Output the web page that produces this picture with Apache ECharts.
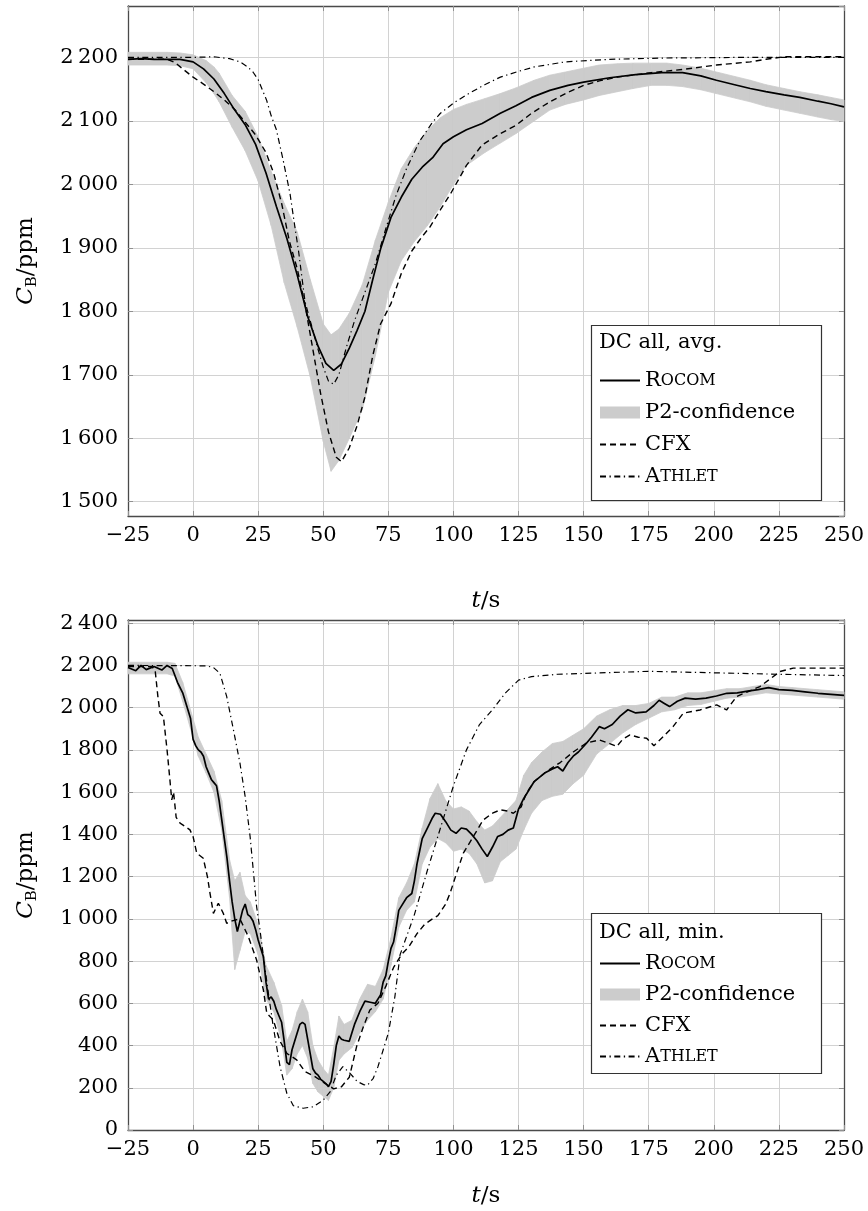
<!DOCTYPE html>
<html>
<head>
<meta charset="utf-8">
<script src="https://cdn.jsdelivr.net/npm/echarts@6.0.0/dist/echarts.min.js"></script>
<style>
  html, body { margin: 0; padding: 0; background: #fff; }
  #chart { width: 868px; height: 1211px; }
</style>
</head>
<body>
<div id="chart"></div>
<script>
// ---- top panel: DC all, avg. ----
var rocomAvg = [[-25,2197],[-20,2198],[-15,2197],[-10,2197],[-5,2197],[0,2193],[4,2182],[8,2166],[12,2143],[16,2117],[20,2094],[24,2063],[28,2018],[32,1965],[36,1915],[40,1857],[44,1792],[48,1745],[51,1718],[54,1707],[57,1717],[60,1742],[63,1770],[66,1800],[69,1850],[72,1898],[76,1948],[80,1980],[84,2008],[88,2027],[92,2042],[96,2064],[100,2075],[105,2086],[111,2096],[118,2112],[124,2124],[130,2137],[137,2148],[144,2156],[150,2161],[160,2168],[170,2173],[180,2176],[188,2176],[195,2171],[201,2164],[208,2157],[214,2151],[220,2146],[227,2141],[233,2137],[240,2131],[245,2127],[250,2122]];
var cfxAvg = [[-25,2197],[-10,2197],[-7,2192],[-4,2182],[0,2169],[4,2158],[8,2146],[12,2133],[16,2118],[20,2098],[24,2078],[28,2050],[31,2017],[34,1970],[37,1910],[40,1867],[43,1810],[46,1740],[49,1670],[52,1610],[55,1570],[57,1563],[60,1585],[63,1620],[66,1665],[69,1730],[72,1780],[76,1812],[80,1860],[84,1895],[88,1918],[91,1933],[95,1960],[99,1986],[105,2030],[111,2062],[118,2080],[124,2093],[130,2112],[137,2130],[144,2145],[150,2156],[156,2163],[163,2169],[176,2176],[188,2181],[201,2188],[214,2193],[220,2197],[227,2201],[240,2201],[250,2201]];
var athletAvg = [[-25,2200],[0,2200],[8,2201],[14,2198],[18,2193],[21,2185],[23,2177],[25,2165],[27,2145],[28.2,2133],[30,2108],[32,2086],[34.6,2038],[37.2,1986],[39.1,1933],[40.5,1895],[43,1815],[45,1785],[48,1740],[50,1712],[52,1690],[54,1685],[56,1700],[59,1745],[62,1785],[66,1830],[70,1875],[74,1930],[78,1983],[82,2025],[87,2068],[92,2098],[95,2112],[100,2128],[105,2141],[112,2157],[118,2169],[125,2178],[131,2185],[143,2193],[160,2197],[180,2199],[210,2200],[250,2200]];
var bandAvgT  = [-25,-10,-5,0,5,8,10,15,20,25,30,35,40,45,50,53,56,60,65,70,75,80,85,90,95,100,105,112,118,124,131,137,143,150,156,163,169,176,182,188,195,201,208,214,220,227,233,240,245,250];
var bandAvgLo = [2188,2188,2187,2182,2160,2143,2130,2090,2053,2005,1935,1845,1775,1697,1595,1548,1565,1600,1645,1730,1830,1880,1910,1935,1965,2000,2030,2050,2065,2080,2100,2117,2126,2133,2140,2146,2151,2156,2156,2154,2149,2143,2136,2130,2123,2117,2112,2106,2102,2099];
var bandAvgHi = [2208,2208,2207,2204,2195,2185,2175,2140,2115,2075,2020,1970,1925,1850,1780,1763,1772,1797,1842,1912,1972,2025,2058,2085,2105,2118,2126,2135,2143,2152,2164,2172,2177,2183,2188,2190,2191,2191,2191,2188,2183,2177,2170,2164,2157,2151,2146,2141,2137,2133];

// ---- bottom panel: DC all, min. ----
var rocomMin = [[-25,2190],[-22,2175],[-20,2200],[-18,2180],[-15,2195],[-12,2178],[-10,2200],[-8,2185],[-6,2120],[-4,2070],[-2,1990],[-1,1950],[0,1850],[1,1820],[2,1800],[3,1790],[4,1770],[5,1720],[6,1690],[7,1660],[8,1645],[9,1630],[10,1560],[11,1470],[12,1380],[13,1290],[14,1180],[15,1080],[16,1000],[17,940],[18,990],[19,1040],[20,1070],[21,1020],[22,1010],[23,990],[24,950],[25,900],[26,860],[27,820],[28,700],[29,620],[30,630],[31,610],[32,570],[33,540],[34,510],[35,420],[36,320],[37,310],[38,380],[39,420],[40,460],[41,500],[42,510],[43,500],[44,430],[45,360],[46,290],[47,270],[48,260],[49,240],[50,230],[51,220],[52,205],[53,230],[54,310],[55,400],[56,445],[57,430],[58,425],[60,420],[61,460],[62,500],[64,560],[66,610],[68,605],[70,600],[72,640],[73,700],[74,730],[75,800],[76,860],[77,890],[78,960],[79,1040],[80,1060],[82,1100],[84,1120],[85,1180],[86,1260],[87,1320],[88,1380],[90,1430],[92,1480],[93,1500],[95,1495],[97,1460],[99,1420],[101,1405],[103,1430],[105,1425],[107,1400],[109,1370],[111,1330],[113,1295],[115,1340],[117,1390],[119,1400],[121,1420],[123,1430],[125,1520],[127,1570],[129,1610],[131,1650],[133,1670],[135,1690],[138,1710],[140,1720],[142,1700],[144,1740],[146,1770],[148,1790],[151,1830],[153,1860],[156,1910],[158,1900],[161,1920],[164,1960],[167,1990],[170,1975],[174,1980],[177,2010],[179,2035],[181,2020],[183,2005],[186,2030],[189,2045],[193,2040],[197,2045],[201,2055],[205,2068],[209,2070],[213,2078],[217,2085],[221,2095],[225,2085],[230,2082],[235,2075],[240,2068],[245,2063],[250,2058]];
var cfxMin = [[-25,2195],[-16,2195],[-14.6,2180],[-13.5,2050],[-12.7,1974],[-11.4,1958],[-10,1800],[-8.9,1658],[-8.2,1563],[-7.5,1600],[-6.5,1480],[-5,1453],[-3,1437],[-1.2,1421],[0,1389],[1.4,1311],[3.9,1287],[5.5,1200],[6.5,1121],[7.8,1026],[9.7,1074],[11.6,1026],[12.9,979],[15,990],[18,1000],[21.2,916],[24.4,805],[27,663],[28.3,553],[30.8,521],[33.4,420],[36,363],[39.8,332],[43,276],[46.8,253],[50.6,221],[54,195],[57,205],[60,250],[62.8,395],[65.4,489],[67.9,568],[71,600],[74,680],[77,770],[80,830],[83,870],[86,930],[89,975],[92,1000],[94,1015],[97,1070],[98.7,1121],[101.2,1216],[103.8,1311],[107.6,1389],[111.4,1468],[115,1500],[118,1516],[121,1510],[123,1500],[126,1530],[128,1595],[131,1650],[136,1700],[141,1740],[146,1790],[151,1832],[156,1847],[160,1830],[162.7,1816],[165,1850],[167.8,1871],[171,1860],[174.2,1855],[177,1820],[180.6,1863],[184.4,1911],[188.3,1974],[194.7,1989],[201.1,2013],[204.9,1989],[208.8,2053],[213,2075],[217.7,2100],[221,2130],[225.4,2171],[230.5,2187],[240,2187],[250,2187]];
var athletMin = [[-25,2200],[5,2198],[7.8,2190],[10.3,2163],[12.9,2053],[15.5,1895],[18,1737],[20,1579],[21.9,1389],[23.1,1232],[24.4,1058],[25.7,947],[27,821],[29,640],[30.8,489],[33.4,300],[36,174],[38.5,115],[42.3,103],[46.2,110],[50,142],[52.6,180],[55,260],[57.5,300],[60.3,268],[63,230],[65.5,215],[67,212],[69.2,245],[71,300],[73,379],[75,460],[77.5,631],[79.5,830],[85,1020],[90,1230],[95,1430],[100,1630],[105,1800],[110,1920],[115,1990],[120,2070],[125,2130],[130,2147],[140,2158],[150,2162],[175,2172],[200,2165],[225,2158],[250,2152]];
var bandMinT  = [-25,-10,-7,-4,-1,2,5,8,11,14,16,18,20,22,25,28,31,34,36,38,40,42,44,46,48,50,52,54,56,58,61,64,67,70,73,76,79,82,85,88,91,94,97,100,103,106,109,112,115,118,121,124,127,130,134,138,142,146,150,155,160,165,170,175,180,185,190,195,200,205,210,215,220,225,230,240,250];
var bandMinLo = [2160,2160,2150,2030,1900,1770,1690,1600,1420,1100,760,850,940,930,830,620,560,420,260,290,360,400,340,220,180,160,140,200,330,360,390,460,520,560,620,780,960,1040,1080,1260,1340,1380,1360,1320,1330,1310,1260,1170,1180,1270,1300,1330,1420,1500,1560,1580,1590,1640,1680,1780,1830,1880,1920,1950,1980,1990,2010,2015,2030,2045,2050,2060,2070,2065,2060,2050,2040];
var bandMinHi = [2215,2215,2210,2120,1990,1860,1780,1700,1560,1280,1180,1220,1110,1080,970,780,700,590,420,470,560,620,560,400,330,290,260,390,540,500,520,620,690,680,760,910,1100,1170,1260,1430,1570,1640,1560,1520,1530,1510,1460,1420,1440,1480,1520,1560,1680,1740,1790,1830,1840,1870,1900,1960,1990,2010,2010,2020,2050,2050,2070,2070,2080,2090,2090,2100,2110,2100,2095,2085,2075];

var xTicks = { min: -25, max: 250, interval: 25 };
var yAvgRange = { min: 1477.5, max: 2281, step: 100 };
var yMinRange = { min: 0, max: 2415, step: 200 };

var FONT = 'DejaVu Serif';
var BAND = '#cccccc';
var GRIDC = '#d2d2d2';
var AXISC = '#4a4a4a';

function xLabel(v) { return v < 0 ? '\u2212' + (-v) : String(v); }
function yLabel(v) {
    var s = String(Math.round(v));
    if (s.length > 3) return s.slice(0, s.length - 3) + '\u2009' + s.slice(-3);
    return s;
}

var nameRich = {
    i: { fontFamily: FONT, fontSize: 23, fontStyle: 'italic', color: '#000' },
    s: { fontFamily: FONT, fontSize: 15, color: '#000', padding: [12, 0, 0, 0] },
    n: { fontFamily: FONT, fontSize: 23, color: '#000' }
};

function xAxes(gi, nameGap) {
    var base = {
        type: 'value', gridIndex: gi, min: xTicks.min, max: xTicks.max, interval: xTicks.interval,
        axisLine: { show: true, onZero: false, lineStyle: { color: AXISC, width: 1.3 } },
        axisTick: { show: true, inside: true, length: 5, lineStyle: { color: '#909090' } }
    };
    var bottom = echarts.util.merge({
        position: 'bottom',
        name: '{i|t}{n|/s}', nameLocation: 'middle', nameGap: nameGap,
        nameTextStyle: { rich: nameRich },
        splitLine: { show: true, lineStyle: { color: GRIDC, width: 1 } },
        axisLabel: { margin: 9, fontFamily: FONT, fontSize: 21, color: '#000', formatter: xLabel }
    }, base, true);
    var top = echarts.util.merge({
        position: 'top', splitLine: { show: false }, axisLabel: { show: false }
    }, base, true);
    return [bottom, top];
}

function yAxes(gi, r) {
    var base = {
        type: 'value', gridIndex: gi, min: r.min, max: r.max,
        splitNumber: Math.round((r.max - r.min) / r.step), minInterval: r.step, maxInterval: r.step,
        axisLine: { show: true, onZero: false, lineStyle: { color: AXISC, width: 1.3 } },
        axisTick: { show: true, inside: true, length: 5, lineStyle: { color: '#909090' } }
    };
    var left = echarts.util.merge({
        position: 'left',
        name: '{i|C}{s|B}{n|/ppm}', nameLocation: 'middle', nameGap: 88, nameRotate: 90,
        nameTextStyle: { rich: nameRich },
        splitLine: { show: true, lineStyle: { color: GRIDC, width: 1 } },
        axisLabel: { margin: 10, fontFamily: FONT, fontSize: 21, color: '#000', formatter: yLabel,
                     showMinLabel: r.min === 0, showMaxLabel: false }
    }, base, true);
    var right = echarts.util.merge({
        position: 'right', splitLine: { show: false }, axisLabel: { show: false }
    }, base, true);
    return [left, right];
}

// band drawn as quads between consecutive samples, through the axis scales
function bandRender(params, api) {
    var a = api.coord([api.value(0), api.value(1)]);
    var b = api.coord([api.value(3), api.value(4)]);
    var c = api.coord([api.value(3), api.value(5)]);
    var d = api.coord([api.value(0), api.value(2)]);
    return {
        type: 'polygon',
        shape: { points: [a, b, c, d] },
        style: { fill: BAND, stroke: BAND, lineWidth: 0.8 }
    };
}

function panelSeries(gi, rocom, cfx, athlet, bandT, bandLo, bandHi) {
    var xi = gi * 2, yi = gi * 2;
    var segs = [];
    for (var i = 0; i < bandT.length - 1; i++) {
        segs.push([bandT[i], bandLo[i], bandHi[i], bandT[i + 1], bandLo[i + 1], bandHi[i + 1]]);
    }
    function line(name, data, style, z) {
        return { name: name, type: 'line', xAxisIndex: xi, yAxisIndex: yi, data: data,
                 symbol: 'none', showSymbol: false, lineStyle: style,
                 itemStyle: { color: '#000' }, z: z };
    }
    return [
        { name: 'P2-confidence', type: 'custom', xAxisIndex: xi, yAxisIndex: yi, z: 1, silent: true,
          data: segs, encode: { x: [0, 3], y: [1, 2, 4, 5] }, renderItem: bandRender,
          itemStyle: { color: BAND } },
        line('CFX', cfx, { color: '#000', width: 1.4, type: [6, 4] }, 3),
        line('Athlet', athlet, { color: '#000', width: 1.2, type: [6, 3.5, 1.3, 3.5] }, 3),
        line('Rocom', rocom, { color: '#000', width: 1.7 }, 4)
    ];
}

function legendBox(top, gap) {
    return {
        orient: 'vertical', left: 599, top: top, padding: 0, itemGap: gap,
        itemWidth: 40, itemHeight: 12, z: 10, selectedMode: false,
        itemStyle: { opacity: 0 },
        data: ['Rocom', { name: 'P2-confidence', icon: 'rect', itemStyle: { opacity: 1, color: BAND } }, 'CFX', 'Athlet'],
        formatter: function (name) {
            if (name === 'Rocom') return '{b|R}{c|OCOM}';
            if (name === 'Athlet') return '{b|A}{c|THLET}';
            return '{b|' + name + '}';
        },
        textStyle: {
            color: '#000',
            rich: {
                b: { fontFamily: FONT, fontSize: 21, lineHeight: 24, color: '#000' },
                c: { fontFamily: FONT, fontSize: 16, lineHeight: 24, color: '#000' }
            }
        }
    };
}

function boxGraphic(y, h, title, titleY) {
    return [
        { type: 'rect', z: 8, shape: { x: 591.5, y: y, width: 230, height: h },
          style: { fill: '#fff', stroke: '#333', lineWidth: 1.2 } },
        { type: 'text', z: 9, x: 599, y: titleY,
          style: { text: title, fill: '#000', fontFamily: FONT, fontSize: 21, verticalAlign: 'middle', align: 'left' } }
    ];
}

var option = {
    animation: false,
    backgroundColor: '#fff',
    grid: [
        { left: 128, top: 6, width: 716, height: 510 },
        { left: 128, top: 620, width: 716, height: 510 }
    ],
    xAxis: xAxes(0, 74).concat(xAxes(1, 55)),
    yAxis: yAxes(0, yAvgRange).concat(yAxes(1, yMinRange)),
    legend: [legendBox(370, 11), legendBox(953, 10)],
    graphic: { elements: boxGraphic(325.5, 175, 'DC all, avg.', 343).concat(boxGraphic(913.5, 160, 'DC all, min.', 933)) },
    series: panelSeries(0, rocomAvg, cfxAvg, athletAvg, bandAvgT, bandAvgLo, bandAvgHi)
        .concat(panelSeries(1, rocomMin, cfxMin, athletMin, bandMinT, bandMinLo, bandMinHi))
};

var chart = echarts.init(document.getElementById('chart'), null, { renderer: 'canvas' });
chart.setOption(option);
</script>
</body>
</html>
